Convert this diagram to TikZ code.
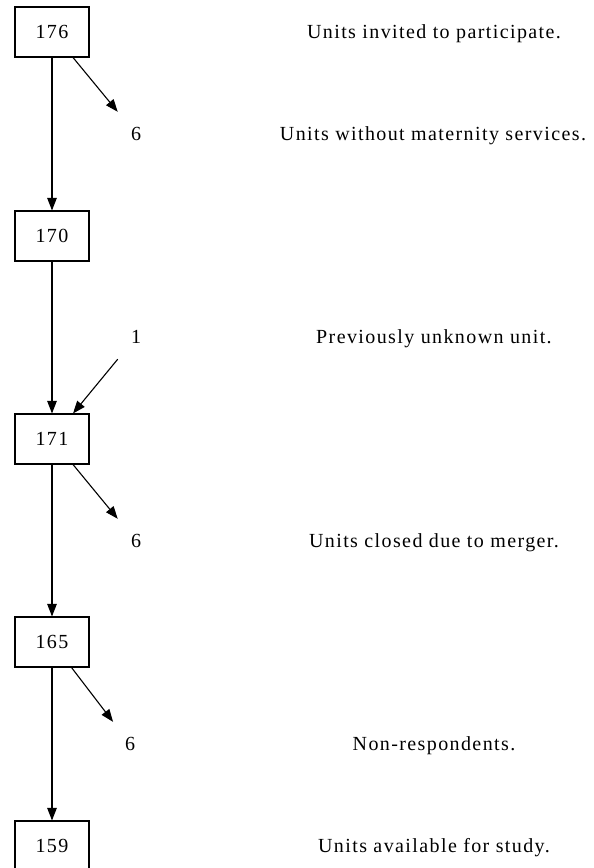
\documentclass[tikz,border=0pt]{standalone}
\usepackage{fontspec}
\setmainfont{Liberation Serif}[LetterSpace=7]
\usetikzlibrary{arrows.meta}
\begin{document}
\begin{tikzpicture}[x=1pt,y=-1pt,
  every node/.style={font=\fontsize{20}{24}\selectfont, text height=13.5pt, text depth=0pt, inner sep=0pt},
  countbox/.style={draw, line width=1.1pt, minimum width=74pt, minimum height=50pt},
  countlabel/.style={minimum width=54pt, minimum height=44pt},
  note/.style={anchor=center},
  flow/.style={line width=1.1pt, -{Triangle[length=12.5pt,width=9.5pt]}}]
\useasboundingbox (0,0) rectangle (594,868);
\clip (0,0) rectangle (594,868);

% counts along the main flow
\node[countbox] (b176) at (52,32)  {176};
\node[countbox] (b170) at (52,236) {170};
\node[countbox] (b171) at (52,439) {171};
\node[countbox] (b165) at (52,642) {165};
\node[countbox] (b159) at (52,846) {159};

% side counts
\node[countlabel] (c6a) at (136,134) {6};
\node[countlabel] (c1)  at (136,337) {1};
\node[countlabel] (c6b) at (136,541) {6};
\node[countlabel] (c6c) at (130,744) {6};

% explanations
\node[note] (t176) at (434,32)  {Units invited to participate.};
\node[note] (t6a)  at (433,134) {Units without maternity services.};
\node[note] (t1)   at (434,337) {Previously unknown unit.};
\node[note] (t6b)  at (434,541) {Units closed due to merger.};
\node[note] (t6c)  at (434,744) {Non-respondents.};
\node[note] (t159) at (434,846) {Units available for study.};

% connectors
\draw[flow] (b176) -- (b170);
\draw[flow] (b176) -- (c6a);
\draw[flow] (b170) -- (b171);
\draw[flow] (c1) -- (b171);
\draw[flow] (b171) -- (c6b);
\draw[flow] (b171) -- (b165);
\draw[flow] (b165) -- (c6c);
\draw[flow] (b165) -- (b159);
\end{tikzpicture}
\end{document}
